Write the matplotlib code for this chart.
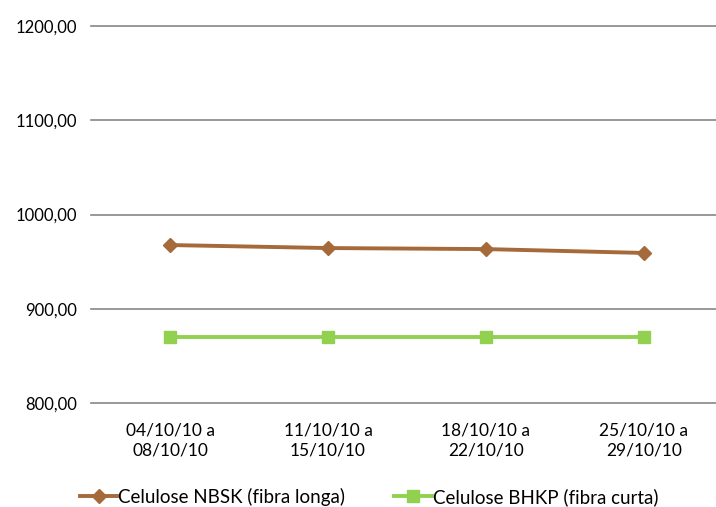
import matplotlib.pyplot as plt
import numpy as np

categories = ["04/10/10 a\n08/10/10", "11/10/10 a\n15/10/10",
              "18/10/10 a\n22/10/10", "25/10/10 a\n29/10/10"]
nbsk = [967.6, 964.4, 963.3, 959.2]
bhkp = [870.0, 870.0, 870.0, 870.0]
yticks = [800, 900, 1000, 1100, 1200]

plt.rcParams['font.family'] = ['Lato', 'DejaVu Sans']

fig = plt.figure(figsize=(7.16, 5.07), dpi=100)
W, H = 716, 507
ax = fig.add_axes([91 / W, 1 - 403 / H, 632 / W, (403 - 26) / H])

x = np.arange(len(categories))
ax.plot(x, nbsk, color='#A5693A', lw=2.8, marker='D', ms=7, label='Celulose NBSK (fibra longa)')
ax.plot(x, bhkp, color='#92D050', lw=2.8, marker='s', ms=8, label='Celulose BHKP (fibra curta)')

ax.set_xlim(-0.5, 3.5)
ax.set_ylim(800, 1200)
ax.set_yticks(yticks)
ax.set_yticklabels([f"{v},00" for v in yticks], fontsize=12)
ax.set_xticks(x)
ax.set_xticklabels(categories, fontsize=12.5, linespacing=1.3)
ax.yaxis.grid(True, color='#868686', lw=1.2)
for gl in ax.get_ygridlines():
    gl.set_clip_on(False)
ax.set_axisbelow(True)
ax.tick_params(length=0, pad=10)
ax.tick_params(axis='x', pad=14)
for s in ax.spines.values():
    s.set_visible(False)

fig.legend(loc='center', bbox_to_anchor=(369 / W, 1 - 497 / H), ncol=2, frameon=False,
           fontsize=13.5, handlelength=2.0, handletextpad=0.05, columnspacing=2.6)

fig.savefig('out.png', dpi=100)
